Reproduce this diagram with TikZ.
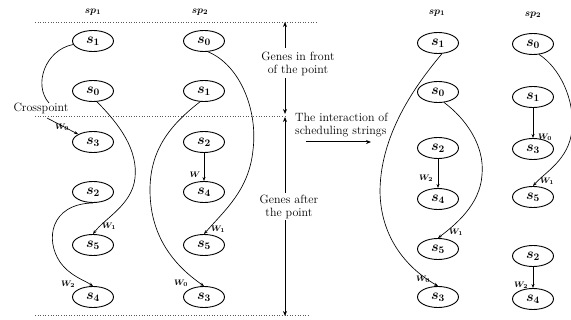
\documentclass[tikz,border=0pt]{standalone}
\usetikzlibrary{shapes.geometric,arrows.meta}
\begin{document}
\begin{tikzpicture}[x=1pt,y=-1pt,
  st/.style={ellipse,draw,line width=0.9pt,minimum width=41pt,minimum height=21pt,inner sep=0pt,font=\fontsize{14}{14}\selectfont\boldmath},
  lnk/.style={line width=0.65pt,-{Stealth[length=4pt,width=3pt]}},
  crv/.style={line width=0.65pt},
  wl/.style={font=\fontsize{8}{8}\selectfont\boldmath,inner sep=0.5pt},
  spl/.style={font=\fontsize{10}{10}\selectfont\boldmath},
  txt/.style={font=\fontsize{12}{13}\selectfont,align=center,inner sep=0pt},
  sep/.style={dotted,line width=0.6pt,gray!70!black},
  bigarr/.style={line width=1pt,-{Stealth[length=5pt,width=4pt]}}]
\useasboundingbox (0,0) rectangle (571,320);

% column labels
\node[spl] (lsp1) at (93,12) {$sp_{1}$};
\node[spl] (lsp2) at (200,12) {$sp_{2}$};
\node[spl] (rsp1) at (437,13) {$sp_{1}$};
\node[spl] (rsp2) at (533,15) {$sp_{2}$};

% left sp1
\node[st] (a1) at (93,41) {$s_{1}$};
\node[st] (a0) at (93,91) {$s_{0}$};
\node[st] (a3) at (93,142) {$s_{3}$};
\node[st] (a2) at (93,192) {$s_{2}$};
\node[st] (a5) at (93,245) {$s_{5}$};
\node[st] (a4) at (93,297) {$s_{4}$};
% left sp2
\node[st] (b0) at (204,41) {$s_{0}$};
\node[st] (b1) at (204,91) {$s_{1}$};
\node[st] (b2) at (204,142) {$s_{2}$};
\node[st] (b4) at (204,192) {$s_{4}$};
\node[st] (b5) at (204,245) {$s_{5}$};
\node[st] (b3) at (204,297) {$s_{3}$};
% right sp1
\node[st] (c1) at (438,43) {$s_{1}$};
\node[st] (c0) at (438,92) {$s_{0}$};
\node[st] (c2) at (438,148) {$s_{2}$};
\node[st] (c4) at (438,199) {$s_{4}$};
\node[st] (c5) at (438,249) {$s_{5}$};
\node[st] (c3) at (438,297) {$s_{3}$};
% right sp2
\node[st] (d0) at (533,44) {$s_{0}$};
\node[st] (d1) at (533,97) {$s_{1}$};
\node[st] (d3) at (533,149) {$s_{3}$};
\node[st] (d5) at (533,197) {$s_{5}$};
\node[st] (d2) at (533,256) {$s_{2}$};
\node[st] (d4) at (533,299) {$s_{4}$};

% dotted separators
\coordinate (s1a) at (35,22); \coordinate (s1b) at (318,22);
\coordinate (s2a) at (35,116); \coordinate (s2b) at (285,116);
\coordinate (s3a) at (35,315); \coordinate (s3b) at (310,315);
\draw[sep] (s1a) -- (s1b);
\draw[sep] (s2a) -- (s2b);
\draw[sep] (s3a) -- (s3b);

% crosspoint
\node[txt] (cp) at (41,108) {Crosspoint};
\coordinate (cpe) at (49,103);
\draw[crv] (a1.190) .. controls (45,50) and (33,85) .. (cpe);
\coordinate (cpa) at (47,118);
\draw[lnk] (cpa) -- (a3.north west);
\node[wl] (w0a) at (62,127) {$W_{0}$};

% left sp1 links
\draw[lnk] (a0.290) .. controls (120,125) and (138,150) .. (135,178) .. controls (132,205) and (105,218) .. (a5.north);
\node[wl] (w1a) at (109,226) {$W_{1}$};
\draw[lnk] (a2.south) .. controls (50,204) and (45,240) .. (60,262) .. controls (70,276) and (84,280) .. (a4.north);
\node[wl] (w2a) at (68,284) {$W_{2}$};

% left sp2 links
\draw[lnk] (b1.250) .. controls (170,125) and (150,150) .. (150,190) .. controls (150,240) and (178,268) .. (b3.north);
\node[wl] (w0b) at (181,283) {$W_{0}$};
\draw[lnk] (b0.290) .. controls (240,65) and (258,110) .. (253,150) .. controls (249,190) and (225,210) .. (b5.north);
\node[wl] (w1b) at (218,229) {$W_{1}$};
\draw[lnk] (b2.south) -- (b4.north);
\node[wl] (wb) at (195,175) {$W$};

% vertical scale
\coordinate (vt) at (285,22); \coordinate (vu1) at (285,48);
\coordinate (vu2) at (285,78); \coordinate (vm1) at (285,114);
\coordinate (vm2) at (285,117); \coordinate (vl1) at (285,193);
\coordinate (vl2) at (285,220); \coordinate (vb) at (285,316);
\node[txt] (gf) at (298,64) {Genes in front\\of the point};
\node[txt] (ga) at (289,207) {Genes after\\the point};
\draw[bigarr] (vu1) -- (vt);
\draw[bigarr] (vu2) -- (vm1);
\draw[bigarr] (vl1) -- (vm2);
\draw[bigarr] (vl2) -- (vb);

% interaction arrow
\node[txt,align=left,anchor=west] (inter) at (295,125) {The interaction of\\scheduling strings};
\coordinate (ia) at (306,142); \coordinate (ib) at (371,142);
\draw[bigarr] (ia) -- (ib);

% right sp1 links
\draw[lnk] (c1.290) .. controls (420,80) and (381,130) .. (380,190) .. controls (380,240) and (410,270) .. (c3.north);
\node[wl] (w0c) at (423,279) {$W_{0}$};
\draw[lnk] (c0.300) .. controls (465,118) and (485,145) .. (482,175) .. controls (480,205) and (455,225) .. (c5.north);
\node[wl] (w1c) at (456,232) {$W_{1}$};
\draw[lnk] (c2.south) -- (c4.north);
\node[wl] (w2c) at (426,178) {$W_{2}$};

% right sp2 links
\draw[lnk] (d1.south) -- (d3.north);
\node[wl] (w0d) at (545,137) {$W_{0}$};
\draw[lnk] (d0.300) .. controls (560,68) and (575,100) .. (572,130) .. controls (569,160) and (545,172) .. (d5.north);
\node[wl] (w1d) at (547,181) {$W_{1}$};
\draw[lnk] (d2.south) -- (d4.north);
\node[wl] (w2d) at (521,285) {$W_{2}$};
\end{tikzpicture}
\end{document}
